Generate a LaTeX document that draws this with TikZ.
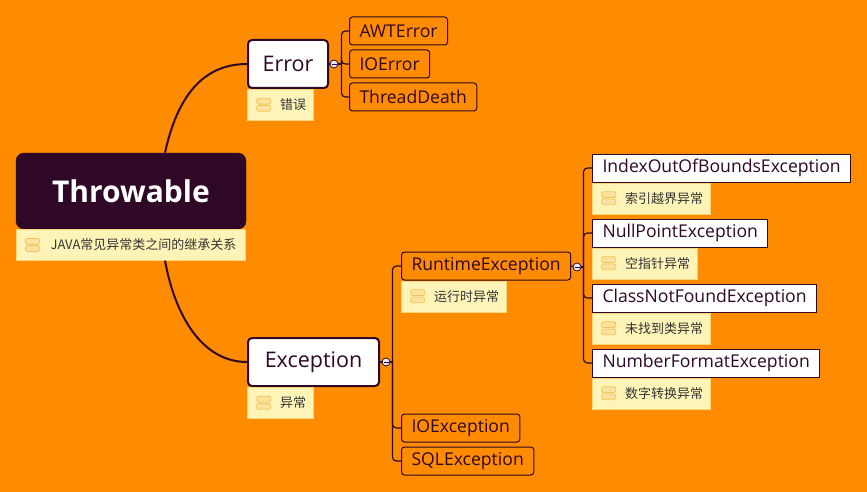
\documentclass[tikz,border=0pt]{standalone}
\usepackage{fontspec}
\setmainfont{Open Sans}
\newfontfamily\cjk{Noto Sans CJK SC}
\usetikzlibrary{positioning}
\definecolor{bgorange}{RGB}{255,139,0}
\definecolor{plum}{RGB}{46,8,38}
\definecolor{notefill}{RGB}{255,244,184}
\definecolor{noteline}{RGB}{246,214,120}
\definecolor{iconfill}{RGB}{252,226,158}
\definecolor{iconline}{RGB}{242,196,90}
\definecolor{notetext}{RGB}{51,51,51}
\definecolor{togglefill}{RGB}{232,236,250}

\begin{document}
\begin{tikzpicture}[x=1pt, y=-1pt,
    root/.style={draw=plum, fill=plum, rounded corners=8pt, text=white, font=\fontsize{30}{36}\selectfont\bfseries, minimum width=230pt, minimum height=76pt, inner sep=0pt},
    topic/.style={draw=plum, line width=2pt, fill=white, rounded corners=4pt, text=plum, font=\fontsize{21.5}{26}\selectfont, minimum height=48pt, inner xsep=12pt, anchor=west},
    leaf/.style={draw=plum, line width=1pt, rounded corners=3pt, text=plum, font=\fontsize{17.6}{21}\selectfont, minimum height=28pt, inner xsep=10pt, anchor=west},
    wleaf/.style={leaf, fill=white, rounded corners=0pt},
    note/.style={draw=noteline, fill=notefill, text=notetext, font=\cjk\fontsize{13}{16}\selectfont, minimum height=31pt, inner xsep=7pt, anchor=north west,
        execute at begin node=\hspace*{26pt},
        path picture={
          \draw[iconline, fill=iconfill, rounded corners=1.5pt, line width=0.8pt]
            ([xshift=9.5pt,yshift=0.7pt]path picture bounding box.west) rectangle ([xshift=23.5pt,yshift=6.5pt]path picture bounding box.west)
            ([xshift=9.5pt,yshift=-0.7pt]path picture bounding box.west) rectangle ([xshift=23.5pt,yshift=-6.5pt]path picture bounding box.west);}},
    toggle/.style={circle, draw=plum, fill=togglefill, line width=0.8pt, inner sep=0pt, minimum size=8pt,
        path picture={\draw[plum, line width=0.8pt] ([xshift=-2.5pt]path picture bounding box.center) -- ([xshift=2.5pt]path picture bounding box.center);}},
    curve/.style={draw=plum, line width=2pt},
    branch/.style={draw=plum, line width=1.2pt, rounded corners=4pt}
    ]
\fill[bgorange] (0,0) rectangle (867,492);
\useasboundingbox (0,0) rectangle (867,492);

% root
\node[root] (throw) at (131,191) {Throwable};
\node[note, minimum width=229pt] (thrownote) at (throw.south west) {JAVA常见异常类之间的继承关系};

% Error
\node[topic, minimum width=80pt] (err) at (247,64) {Error};
\node[note] (errnote) at (err.south west) {错误};
\node[toggle] (errtog) at (334,64) {};
\node[leaf] (awt) at (349,31) {AWTError};
\node[leaf] (ioerr) at (349,64) {IOError};
\node[leaf] (death) at (349,97) {ThreadDeath};

% Exception
\node[topic, minimum width=131pt] (exc) at (247,362) {Exception};
\node[note] (excnote) at (exc.south west) {异常};
\node[toggle] (exctog) at (386,362) {};
\node[leaf] (rte) at (401,266) {RuntimeException};
\node[note] (rtenote) at (rte.south west) {运行时异常};
\node[toggle] (rtetog) at (577,267) {};
\node[leaf] (ioexc) at (401,428) {IOException};
\node[leaf] (sqlexc) at (401,461) {SQLException};

% RuntimeException
\node[wleaf] (idx) at (592,168) {IndexOutOfBoundsException};
\node[note] (idxnote) at (idx.south west) {索引越界异常};
\node[wleaf] (npe) at (592,233) {NullPointException};
\node[note] (npenote) at (npe.south west) {空指针异常};
\node[wleaf] (cnf) at (592,298) {ClassNotFoundException};
\node[note] (cnfnote) at (cnf.south west) {未找到类异常};
\node[wleaf] (nfe) at (592,363) {NumberFormatException};
\node[note] (nfenote) at (nfe.south west) {数字转换异常};

% connectors
\draw[curve] ([xshift=34pt]throw.north) .. controls +(12,-55) and +(-45,0) .. (err.west);
\draw[curve] ([xshift=34.5pt]thrownote.south) .. controls +(10,55) and +(-45,0) .. (exc.west);

\draw[branch] (err.east) -- (errtog);
\draw[branch] (errtog.east) -- ++(3,0) coordinate (errfork);
\draw[branch] (errfork) |- (awt.west);
\draw[branch] (errfork) |- (ioerr.west);
\draw[branch] (errfork) |- (death.west);

\draw[branch] (exc.east) -- (exctog);
\draw[branch] (exctog.east) -- ++(2,0) coordinate (excfork);
\draw[branch] (excfork) |- (rte.west);
\draw[branch] (excfork) |- (ioexc.west);
\draw[branch] (excfork) |- (sqlexc.west);

\draw[branch] (rte.east) -- (rtetog);
\draw[branch] (rtetog.east) -- ++(2,0) coordinate (rtefork);
\draw[branch] (rtefork) |- (idx.west);
\draw[branch] (rtefork) |- (npe.west);
\draw[branch] (rtefork) |- (cnf.west);
\draw[branch] (rtefork) |- (nfe.west);
\end{tikzpicture}
\end{document}
